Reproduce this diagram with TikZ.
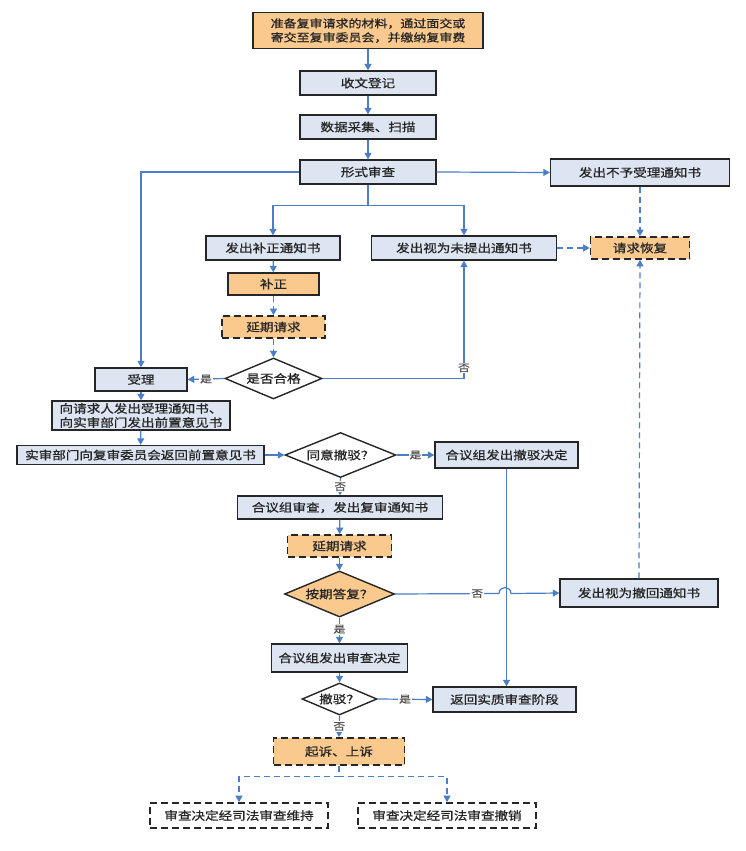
\documentclass[tikz,border=0pt]{standalone}
\usepackage{fontspec}
\newfontfamily\cjk[FakeStretch=1.18,FakeBold=0.8]{Noto Sans CJK SC}
\usetikzlibrary{shapes.geometric,arrows.meta}
\definecolor{boxblue}{HTML}{DCE5F1}
\definecolor{boxorange}{HTML}{F9C98E}
\definecolor{linecol}{HTML}{4A7EC7}
\definecolor{bordercol}{HTML}{262626}
\definecolor{lblcol}{HTML}{555555}
\tikzset{
  base/.style={draw=bordercol, line width=1.4pt, inner sep=0pt, font=\cjk\fontsize{11.5}{14}\selectfont, text=black!85, align=center},
  bluebox/.style={base, rectangle, fill=boxblue},
  orangebox/.style={base, rectangle, fill=boxorange},
  dorangebox/.style={base, rectangle, fill=boxorange, dash pattern=on 7pt off 4pt, line width=1.7pt},
  dwhitebox/.style={base, rectangle, fill=white, dash pattern=on 7pt off 4pt, line width=1.7pt},
  dia/.style={base, diamond, aspect=2.4, fill=white},
  odia/.style={base, diamond, aspect=2.4, fill=boxorange},
  sz/.style 2 args={minimum width=#1pt, minimum height=#2pt},
  arr/.style={draw=linecol, line width=1.2pt, -{Triangle[length=6.5pt,width=7pt]}},
  darr/.style={arr, dash pattern=on 6pt off 4pt},
  lbl/.style={font=\cjk\fontsize{10}{12}\selectfont, text=lblcol, fill=white, inner sep=1pt}
}
\begin{document}
\begin{tikzpicture}[x=1pt,y=-1pt]
\fill[white] (0,0) rectangle (745,851);
\useasboundingbox (0,0) rectangle (745,851);

\node[orangebox, sz={230}{36}, font=\cjk\fontsize{11}{14}\selectfont] (top) at (368,30.5) {准备复审请求的材料，通过面交或\\寄交至复审委员会，并缴纳复审费};
\node[bluebox, sz={136}{24}] (shouwen) at (368,83) {收文登记};
\node[bluebox, sz={136}{24}] (shuju) at (368,127) {数据采集、扫描};
\node[bluebox, sz={136}{24}] (xingshi) at (368,172) {形式审查};
\node[bluebox, sz={179}{27}] (buyu) at (640,172.5) {发出不予受理通知书};
\node[bluebox, sz={134}{24}] (buzhengtz) at (273,248) {发出补正通知书};
\node[bluebox, sz={185}{24}] (shiwei) at (464,248) {发出视为未提出通知书};
\node[dorangebox, sz={99}{22}] (huifu) at (640,248) {请求恢复};
\node[orangebox, sz={91}{22}] (buzheng) at (273.5,284) {补正};
\node[dorangebox, sz={103}{22}] (yanqi1) at (273.5,327) {延期请求};
\node[dia, sz={97}{41}] (hege) at (273.5,378.5) {是否合格};
\node[bluebox, sz={92}{23}] (shouli) at (141,379.5) {受理};
\node[bluebox, sz={178}{29}] (xiang) at (141,415.5) {向请求人发出受理通知书、\\向实审部门发出前置意见书};
\node[bluebox, sz={247}{19}] (shishen) at (140.5,455) {实审部门向复审委员会返回前置意见书};
\node[dia, sz={111}{45}] (tongyi) at (340.5,455) {同意撤驳？};
\node[bluebox, sz={143}{26}] (cheboj) at (506.5,455) {合议组发出撤驳决定};
\node[bluebox, sz={205}{23}] (heyi) at (340,507.5) {合议组审查，发出复审通知书};
\node[dorangebox, sz={104}{22}] (yanqi2) at (339.5,546) {延期请求};
\node[odia, sz={110}{46}] (anqi) at (339.5,594) {按期答复？};
\node[bluebox, sz={158}{28}] (chehui) at (639,593) {发出视为撤回通知书};
\node[bluebox, sz={136}{28}] (shencha) at (339.5,658) {合议组发出审查决定};
\node[dia, sz={75}{32}] (bo) at (339.5,699) {撤驳？};
\node[bluebox, sz={143}{25}] (fanhui) at (504.5,699.5) {返回实质审查阶段};
\node[dorangebox, sz={131}{27}] (qisu) at (339,751.5) {起诉、上诉};
\node[dwhitebox, sz={178}{25}] (weichi) at (239,815.5) {审查决定经司法审查维持};
\node[dwhitebox, sz={178}{25}] (chexiao) at (447,815.5) {审查决定经司法审查撤销};

\coordinate (hopA) at (499,593.5);
\coordinate (hopB) at (511,593.5);

\draw[arr] (top) -- (shouwen);
\draw[arr] (shouwen) -- (shuju);
\draw[arr] (shuju) -- (xingshi);
\draw[arr] (xingshi.east) -- (buyu.west);
\draw[arr] (xingshi.west) -| (shouli.north);
\draw[arr] (xingshi.south) -- ++(0,21) -| (buzhengtz.north);
\draw[arr] (xingshi.south) -- ++(0,21) -| (shiwei.north);
\draw[darr] (buyu.south) -- (huifu.north);
\draw[darr] (shiwei.east) -- (huifu.west);
\draw[arr] (buzhengtz) -- (buzheng);
\draw[darr] (buzheng) -- (yanqi1);
\draw[darr] (yanqi1) -- (hege);
\draw[arr] (hege.west) -- node[lbl] {是} (shouli.east);
\draw[arr] (hege.east) -| node[lbl, pos=0.545] {否} (shiwei.south);
\draw[arr] (shouli) -- (xiang);
\draw[arr] (xiang) -- (shishen);
\draw[arr] (shishen.east) -- (tongyi.west);
\draw[arr] (tongyi.east) -- node[lbl] {是} (cheboj.west);
\draw[arr] (tongyi.south) -- node[lbl] {否} (heyi.north);
\draw[arr] (heyi) -- (yanqi2);
\draw[arr] (yanqi2) -- (anqi);
\draw[arr] (anqi.east) -- node[lbl, pos=0.79] {否} (hopA) .. controls ([yshift=8pt]hopA) and ([yshift=8pt]hopB) .. (hopB) -- (chehui.west);
\draw[darr] (chehui.north) -- (huifu.south);
\draw[arr] (anqi.south) -- node[lbl, pos=0.45] {是} (shencha.north);
\draw[arr] (shencha) -- (bo);
\draw[arr] (bo.east) -- node[lbl] {是} (fanhui.west);
\draw[arr] (cheboj.south) -- (cheboj.south |- fanhui.north);
\draw[arr] (bo.south) -- node[lbl] {否} (qisu.north);
\draw[darr] (qisu.south) -- ++(0,11) -| (weichi.north);
\draw[darr] (qisu.south) -- ++(0,11) -| (chexiao.north);
\end{tikzpicture}
\end{document}
